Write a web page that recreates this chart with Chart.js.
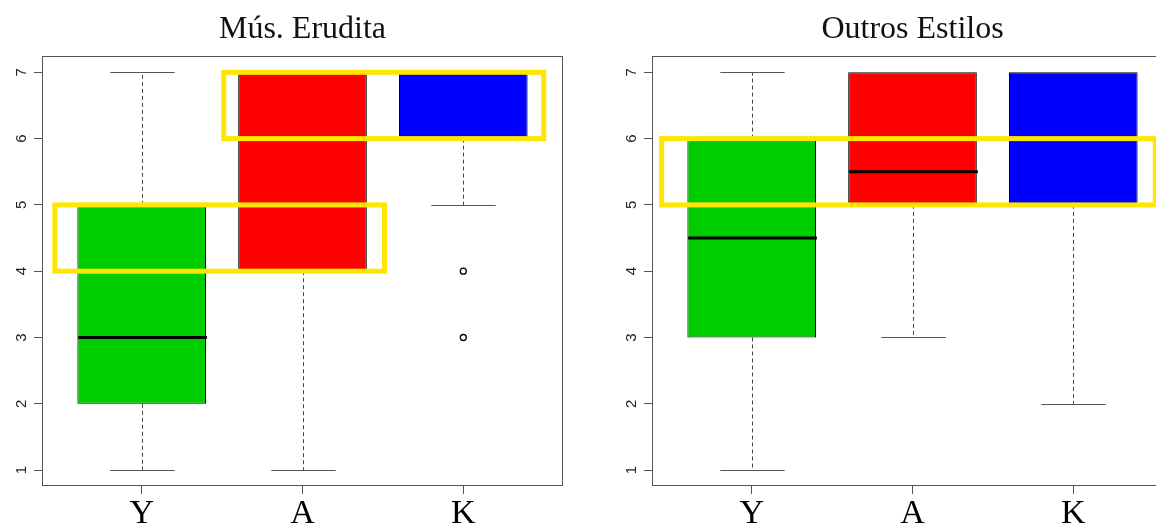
<!DOCTYPE html>
<html>
<head>
<meta charset="utf-8">
<script src="https://cdn.jsdelivr.net/npm/chart.js@4/dist/chart.umd.min.js"></script>
<style>
  html, body { margin: 0; padding: 0; background: #fff; overflow: hidden; }
  body { width: 1156px; height: 529px; position: relative; }
  .panel { position: absolute; top: 0; width: 578px; height: 529px; }
  #left { left: 0; }
  #right { left: 610px; }
</style>
</head>
<body>
<div class="panel" id="left"><canvas id="erudita"></canvas></div>
<div class="panel" id="right"><canvas id="outros"></canvas></div>
<script>
const groups = ["Y", "A", "K"];
const boxColors = ["#00CD00", "#FF0000", "#0000FF"];
const yTicks = [1, 2, 3, 4, 5, 6, 7];

// Mús. Erudita
const eruditaMin = [1, 1, 5];
const eruditaQ1 = [2, 4, 6];
const eruditaMedian = [3, 5, 7];
const eruditaQ3 = [5, 7, 7];
const eruditaMax = [7, 7, 7];
const eruditaOutliers = [[], [], [4, 3]];
const eruditaHighlights = [
  { x0: 0.46, x1: 2.51, y0: 4, y1: 5 },
  { x0: 1.51, x1: 3.5, y0: 6, y1: 7 }
];

// Outros Estilos
const outrosMin = [1, 3, 2];
const outrosQ1 = [3, 5, 5];
const outrosMedian = [4.5, 5.5, 6];
const outrosQ3 = [6, 7, 7];
const outrosMax = [7, 7, 7];
const outrosOutliers = [[], [], []];
const outrosHighlights = [
  { x0: 0.44, x1: 3.51, y0: 5, y1: 6 }
];

// whiskers, medians, frame and the yellow boxes on top
const boxExtras = {
  id: "boxExtras",
  afterDatasetsDraw(chart, args, o) {
    const { ctx, chartArea: a, scales: { x, y } } = chart;
    const bars = chart.getDatasetMeta(0).data;
    ctx.save();
    bars.forEach((bar, i) => {
      const cx = Math.round(x.getPixelForValue(i + 1)) + 0.5;
      const half = bar.width / 2;
      ctx.strokeStyle = "#444";
      ctx.lineWidth = 1;
      ctx.setLineDash([4, 3]);
      ctx.beginPath();
      if (o.max[i] > o.q3[i]) {
        ctx.moveTo(cx, y.getPixelForValue(o.q3[i]));
        ctx.lineTo(cx, y.getPixelForValue(o.max[i]));
      }
      if (o.min[i] < o.q1[i]) {
        ctx.moveTo(cx, y.getPixelForValue(o.q1[i]));
        ctx.lineTo(cx, y.getPixelForValue(o.min[i]));
      }
      ctx.stroke();
      ctx.setLineDash([]);
      ctx.strokeStyle = "#555";
      ctx.beginPath();
      if (o.max[i] > o.q3[i]) {
        const py = Math.round(y.getPixelForValue(o.max[i])) + 0.5;
        ctx.moveTo(cx - half / 2, py);
        ctx.lineTo(cx + half / 2, py);
      }
      if (o.min[i] < o.q1[i]) {
        const py = Math.round(y.getPixelForValue(o.min[i])) + 0.5;
        ctx.moveTo(cx - half / 2, py);
        ctx.lineTo(cx + half / 2, py);
      }
      ctx.stroke();
      ctx.strokeStyle = "#000";
      ctx.lineWidth = 3;
      ctx.beginPath();
      const my = y.getPixelForValue(o.median[i]);
      ctx.moveTo(cx - half, my);
      ctx.lineTo(cx + half, my);
      ctx.stroke();
    });
    ctx.strokeStyle = "#555";
    ctx.lineWidth = 1;
    ctx.strokeRect(Math.round(a.left) + 0.5, Math.round(a.top) + 0.5,
      Math.round(a.width) - 1, Math.round(a.height) - 1);
    ctx.strokeStyle = "#FFE600";
    ctx.lineWidth = 5;
    o.highlights.forEach(h => {
      const x0 = x.getPixelForValue(h.x0), x1 = x.getPixelForValue(h.x1);
      const y0 = y.getPixelForValue(h.y0), y1 = y.getPixelForValue(h.y1);
      ctx.strokeRect(x0, y1, x1 - x0, y0 - y1);
    });
    ctx.restore();
  }
};

function makePanel(id, title, min, q1, median, q3, max, outliers, highlights) {
  const points = [];
  outliers.forEach((list, i) => list.forEach(v => points.push({ x: i + 1, y: v })));
  return new Chart(document.getElementById(id), {
    type: "bar",
    data: {
      datasets: [
        {
          data: groups.map((g, i) => ({ x: i + 1, y: [q1[i], q3[i]] })),
          backgroundColor: boxColors,
          borderColor: "#000",
          borderWidth: 1,
          borderSkipped: false,
          barPercentage: 0.8,
          categoryPercentage: 1
        },
        {
          type: "scatter",
          data: points,
          pointStyle: "circle",
          pointRadius: 3,
          pointBorderWidth: 1.3,
          pointBackgroundColor: "rgba(0,0,0,0)",
          pointBorderColor: "#000"
        }
      ]
    },
    options: {
      responsive: true,
      maintainAspectRatio: false,
      animation: false,
      layout: { padding: { right: 15 } },
      plugins: {
        legend: { display: false },
        tooltip: { enabled: false },
        title: {
          display: true,
          text: title,
          fullSize: false,
          color: "#111",
          font: { family: "Liberation Serif", size: 32, weight: "normal" },
          padding: { top: 10, bottom: 8 }
        },
        boxExtras: { min, q1, median, q3, max, highlights }
      },
      scales: {
        x: {
          type: "linear",
          offset: false,
          min: 0.38,
          max: 3.62,
          afterBuildTicks: s => { s.ticks = groups.map((g, i) => ({ value: i + 1 })); },
          afterFit: s => { s.height = 43; },
          ticks: {
            callback: (v, i) => groups[i],
            autoSkip: false,
            maxRotation: 0,
            padding: 0,
            color: "#000",
            font: { family: "Liberation Serif", size: 34 }
          },
          grid: { offset: false, drawOnChartArea: false, tickLength: 8, color: "#555" },
          border: { display: false }
        },
        y: {
          type: "linear",
          min: 0.76,
          max: 7.24,
          afterBuildTicks: s => { s.ticks = yTicks.map(v => ({ value: v })); },
          afterFit: s => { s.width = 42; },
          ticks: {
            minRotation: 90,
            maxRotation: 90,
            crossAlign: "center",
            padding: 8,
            color: "#222",
            font: { family: "Liberation Sans", size: 15 }
          },
          grid: { drawOnChartArea: false, tickLength: 8, color: "#555" },
          border: { display: false }
        }
      }
    },
    plugins: [boxExtras]
  });
}

makePanel("erudita", "Mús. Erudita", eruditaMin, eruditaQ1, eruditaMedian,
  eruditaQ3, eruditaMax, eruditaOutliers, eruditaHighlights);
makePanel("outros", "Outros Estilos", outrosMin, outrosQ1, outrosMedian,
  outrosQ3, outrosMax, outrosOutliers, outrosHighlights);
</script>
</body>
</html>
